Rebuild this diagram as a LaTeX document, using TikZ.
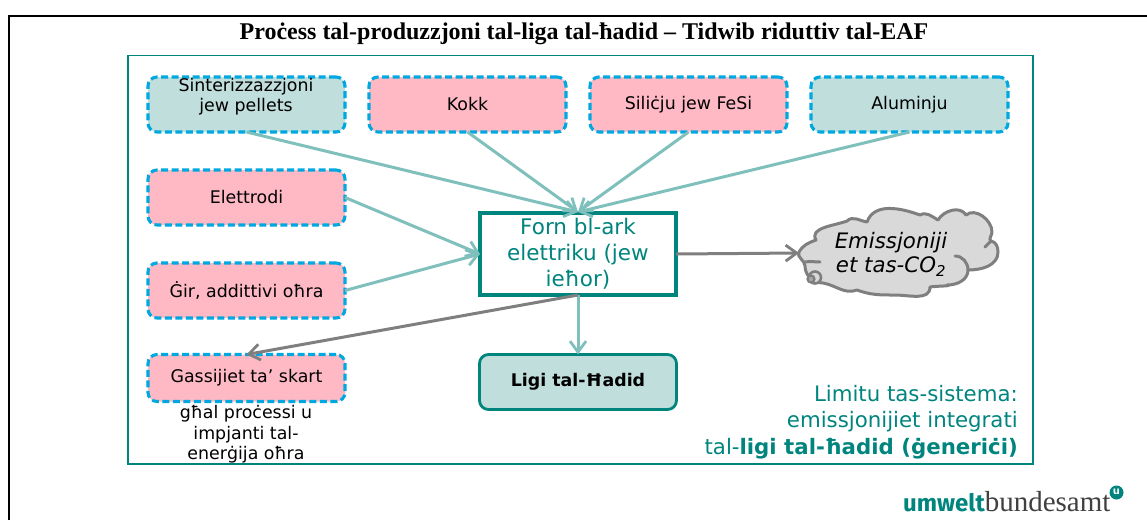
\documentclass[tikz,border=0pt]{standalone}
\usepackage{fontspec}
\setmainfont{DejaVu Sans}
\newfontfamily\titlefont{Liberation Serif}
\newfontfamily\logofont{Liberation Serif}
\newfontfamily\logobold{Fira Sans}
\definecolor{teal1}{HTML}{00847E}
\definecolor{tealL}{HTML}{7FBFBC}
\definecolor{tealF}{HTML}{BFDEDC}
\definecolor{pinkF}{HTML}{FFB9C5}
\definecolor{dashB}{HTML}{00A8E0}
\definecolor{greyA}{HTML}{7F7F7F}
\definecolor{cloudF}{HTML}{D9D9D9}
\tikzset{
  x=1pt,y=-1pt,
  inbox/.style={rounded corners=9pt,draw=dashB,line width=3.1pt,dash pattern=on 7pt off 3.5pt,outer sep=0pt,minimum width=197pt,anchor=north west,inner sep=0pt,align=center,font=\fontsize{17.4}{20}\selectfont},
  tealbox/.style={inbox,fill=tealF},
  pinkbox/.style={inbox,fill=pinkF},
  flowin/.style={draw=tealL,line width=3pt,-{Straight Barb[length=11pt,width=16pt,line width=2.8pt]}},
  flowout/.style={draw=greyA,line width=3pt,-{Straight Barb[length=11pt,width=16pt,line width=2.8pt]}},
  plain/.style={inner sep=0pt,align=center},
}
\usetikzlibrary{arrows.meta}
\begin{document}
\begin{tikzpicture}
\useasboundingbox (0,0) rectangle (1147,520);
\draw[line width=2pt,black] (9,520) -- (9,15.5) -- (1147,15.5);
\node[plain,font=\titlefont\bfseries\fontsize{24}{24}\selectfont] (title) at (584,34) {Proċess tal-produzzjoni tal-liga tal-ħadid – Tidwib riduttiv tal-EAF};
\draw[teal1,line width=1.8pt] (128,55.5) rectangle (1033,464);

\node[tealbox,minimum height=55pt] (sinter) at (148,77) {};
\node[plain,font=\fontsize{17.4}{20}\selectfont] (sintertext) at (246,96.5) {Sinterizzazzjoni\\jew pellets};
\node[pinkbox,minimum height=55pt] (kokk) at (369,77) {Kokk};
\node[pinkbox,minimum height=55pt] (sil) at (590,77) {Siliċju jew FeSi};
\node[tealbox,minimum height=55pt] (alu) at (811,77) {Aluminju};
\node[pinkbox,minimum height=55pt] (elet) at (148,170) {Elettrodi};
\node[pinkbox,minimum height=55pt] (gir) at (148,263) {Ġir, addittivi oħra};
\node[pinkbox,minimum height=47pt] (gas) at (148,354.5) {\raisebox{-2pt}{Gassijiet ta’ skart}};
\node[plain,font=\fontsize{17.4}{20.5}\selectfont] (gasnote) at (246,434.5) {għal proċessi u\\impjanti tal-\\enerġija oħra};

\node[draw=teal1,line width=3.4pt,outer sep=0pt,fill=white,minimum width=196pt,minimum height=82pt,inner sep=0pt,align=center,text=teal1,font=\fontsize{21.5}{26}\selectfont,anchor=north west] (eaf) at (480,213) {Forn bl-ark\\elettriku (jew\\ieħor)};
\node[draw=teal1,line width=2.8pt,outer sep=0pt,fill=tealF,rounded corners=9pt,minimum width=197pt,minimum height=55pt,inner sep=0pt,font=\bfseries\fontsize{17.4}{20}\selectfont,anchor=north west] (ligi) at (479.5,354.5) {\raisebox{-2.5pt}{Ligi tal-Ħadid}};

\coordinate (tip) at (578,212);
\coordinate (eafL) at (480,254);
\draw[flowin] (sinter.south) -- (tip);
\draw[flowin] (kokk.south) -- (tip);
\draw[flowin] (sil.south) -- (tip);
\draw[flowin] (alu.south) -- (tip);
\draw[flowin] (elet.east) -- (eafL);
\draw[flowin] (gir.east) -- (eafL);
\draw[flowin] (eaf.south) -- (ligi.north);
\draw[flowout] (eaf.south) -- (gas.north);

% cloud
\coordinate (cl) at (799,253);
\draw[draw=greyA,line width=3pt,fill=cloudF,line join=round]
  (799,252) to[out=60,in=200] (816,240)
  to[out=120,in=200] (847,221)
  to[out=45,in=170] (867,222)
  to[out=70,in=160] (920,215)
  to[out=30,in=150] (938,220)
  to[out=60,in=120] (966,215)
  to[out=40,in=90] (992,232)
  to[out=-90,in=150] (991,241)
  to[out=-10,in=90] (998,252)
  to[out=-90,in=0] (968,270)
  to[out=-90,in=0] (947,285)
  to[out=-10,in=10] (930,287)
  to[out=-90,in=0] (895,295)
  to[out=180,in=-20] (857,290)
  to[out=200,in=-10] (823,283)
  to[out=180,in=-90] (805,266)
  to[out=90,in=240] (799,252) -- cycle;
\draw[draw=greyA,line width=3pt,line cap=round]
  (805,262) to[out=10,in=180] (820,262)
  (955,256) to[out=0,in=90] (968,270)
  (985,247) -- (991,241);
\draw[draw=greyA,line width=2.6pt,fill=cloudF] (815,277.5) circle (6);
\draw[draw=greyA,line width=2.2pt,fill=greyA!70] (811,279) circle (3.5);
\node[plain,font=\itshape\fontsize{21.3}{24}\selectfont] (co2) at (891,254) {Emissjoniji\\et tas-CO\textsubscript{2}};
\draw[flowout] (eaf.east) -- (cl);

\node[plain,align=right,anchor=south east,text=teal1,font=\fontsize{21.3}{26.5}\selectfont] (lim) at (1018,459) {Limitu tas-sistema:\\emissjonijiet integrati\\tal-\textbf{ligi tal-ħadid (ġeneriċi)}};

\node[plain,anchor=base west,font=\fontsize{24}{24}\selectfont] (logo) at (903,511) {\textcolor{teal1}{\logobold\bfseries umwelt}\textcolor{black!75}{\logofont\fontsize{29}{29}\selectfont bundesamt}};
\fill[teal1] (1116.5,492.5) circle (7);
\node[plain,text=white,font=\bfseries\fontsize{10}{10}\selectfont] (logou) at (1116.5,492) {u};
\end{tikzpicture}
\end{document}
